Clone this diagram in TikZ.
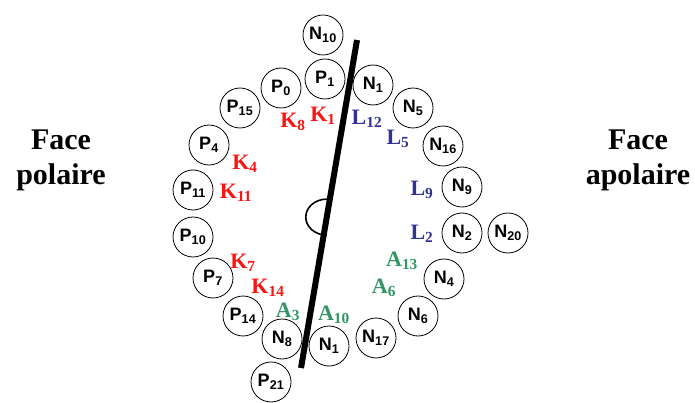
\documentclass[tikz,border=0pt]{standalone}
\usepackage{fontspec}
\setmainfont{Liberation Serif}
\setsansfont{Liberation Sans}
\usepackage{tikz}
\usetikzlibrary{positioning, calc}
\definecolor{kred}{RGB}{250,20,20}
\definecolor{lblue}{RGB}{50,50,150}
\definecolor{agreen}{RGB}{50,150,100}
\tikzset{
    res/.style={
        circle,
        draw=black,
        line width=0.8pt,
        minimum size=40pt,
        inner sep=0pt,
        font=\sffamily\bfseries\fontsize{18}{18}\selectfont
    },
    lab/.style={
        inner sep=0pt,
        font=\bfseries\fontsize{22}{22}\selectfont
    },
    face/.style={
        align=center,
        inner sep=0pt,
        font=\bfseries\fontsize{30}{35}\selectfont
    }
}
\newcommand{\rs}[2]{#1\textsubscript{#2}}

\begin{document}
\begin{tikzpicture}[x=1pt,y=-1pt]
      \useasboundingbox (0,0) rectangle (695,403);

      % residues on the wheel
      \node[res] (N10) at (323,35) {\rs{N}{10}};
      \node[res] (P1) at (325,79) {\rs{P}{1}};
      \node[res] (P0) at (281,88) {\rs{P}{0}};
      \node[res] (P15) at (240,108) {\rs{P}{15}};
      \node[res] (P4) at (209,145) {\rs{P}{4}};
      \node[res] (P11) at (193,190) {\rs{P}{11}};
      \node[res] (P10) at (193,237) {\rs{P}{10}};
      \node[res] (P7) at (213,278) {\rs{P}{7}};
      \node[res] (P14) at (243,316) {\rs{P}{14}};
      \node[res] (N8) at (282,339) {\rs{N}{8}};
      \node[res] (P21) at (271,382) {\rs{P}{21}};
      \node[res] (N1b) at (329,346) {\rs{N}{1}};
      \node[res] (N17) at (376,338) {\rs{N}{17}};
      \node[res] (N6) at (418,316) {\rs{N}{6}};
      \node[res] (N4) at (444,279) {\rs{N}{4}};
      \node[res] (N2) at (462,233) {\rs{N}{2}};
      \node[res] (N20) at (508,233) {\rs{N}{20}};
      \node[res] (N9) at (462,187) {\rs{N}{9}};
      \node[res] (N16) at (443,146) {\rs{N}{16}};
      \node[res] (N5) at (413,108) {\rs{N}{5}};
      \node[res] (N1a) at (373,85) {\rs{N}{1}};

      % dividing axis
      \coordinate (top) at (357,40);
      \coordinate (bot) at (301,368);
      \draw[line width=6pt] (top) -- (bot);
      \coordinate (hinge) at ($(top)!0.54!(bot)$);
      \draw[line width=1.6pt] ($(hinge)+(0,-18)$) arc[start angle=-90, end angle=-270, x radius=21, y radius=18];

      % polar side
      \node[lab, kred] (K8) at (293,122) {\rs{K}{8}};
      \node[lab, kred] (K1) at (323,116) {\rs{K}{1}};
      \node[lab, kred] (K4) at (245,164) {\rs{K}{4}};
      \node[lab, kred] (K11) at (236,193) {\rs{K}{11}};
      \node[lab, kred] (K7) at (243,263) {\rs{K}{7}};
      \node[lab, kred] (K14) at (268,288) {\rs{K}{14}};

      % apolar side
      \node[lab, lblue] (L12) at (367,119) {\rs{L}{12}};
      \node[lab, lblue] (L5) at (398,139) {\rs{L}{5}};
      \node[lab, lblue] (L9) at (422,190) {\rs{L}{9}};
      \node[lab, lblue] (L2) at (422,234) {\rs{L}{2}};
      \node[lab, agreen] (A13) at (402,261) {\rs{A}{13}};
      \node[lab, agreen] (A6) at (384,288) {\rs{A}{6}};
      \node[lab, agreen] (A3) at (288,312) {\rs{A}{3}};
      \node[lab, agreen] (A10) at (334,315) {\rs{A}{10}};

      \node[face] (polar) at (61,160) {Face\\polaire};
      \node[face] (apolar) at (638,160) {Face\\apolaire};
\end{tikzpicture}
\end{document}
